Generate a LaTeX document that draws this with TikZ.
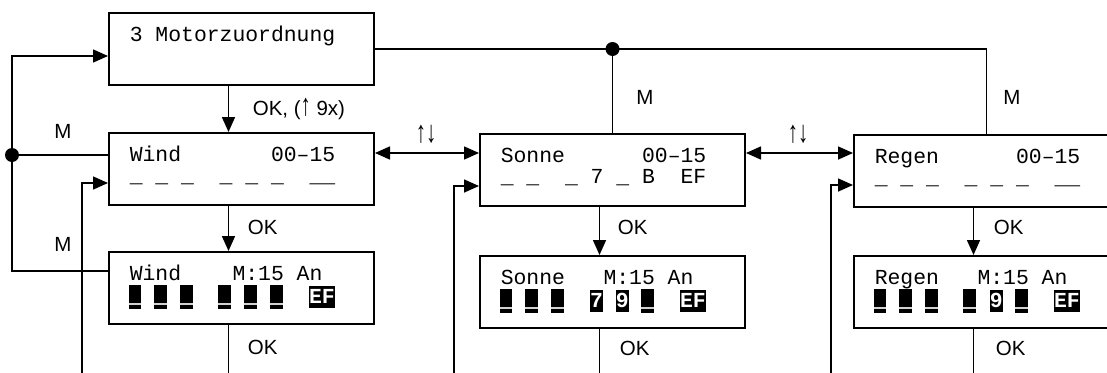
\documentclass[tikz,border=0pt]{standalone}
\usepackage{fontspec}
\usepackage{graphicx}
\setmainfont{Liberation Sans}
\newfontfamily\lcdfont{Liberation Mono}
\newcommand{\pfeilauf}{\scalebox{1}[1.5]{↑}}
\newcommand{\pfeilab}{\scalebox{1}[1.5]{↓}}
\usetikzlibrary{arrows.meta}

\begin{document}
\begin{tikzpicture}[x=1pt, y=-1pt, line width=1.6pt,
		>={Triangle[length=15pt,width=13pt]},
		box/.style={draw, line width=2pt, minimum width=265pt, minimum height=72pt, inner sep=0pt, anchor=north west},
		lcd/.style={anchor=base west, inner sep=0pt, font=\lcdfont\fontsize{21.4}{25}\selectfont},
		hl/.style={fill=black, text=white, inner sep=0pt, anchor=north west, minimum height=22pt, minimum width=12.84pt, font=\lcdfont\bfseries\fontsize{21.4}{25}\selectfont},
		lbl/.style={inner sep=0pt, font=\fontsize{20.5}{24}\selectfont}]
		
		% Rahmen
		\useasboundingbox (0,0) rectangle (1107,372);
		\clip (0,0) rectangle (1107,372);
		
		% Kästen
		\node[box] (menu) at (108,12) {};
		\node[box] (wind) at (108,132) {};
		\node[box] (windM) at (108,251) {};
		\node[box] (sonne) at (479,133) {};
		\node[box] (sonneM) at (479,255) {};
		\node[box] (regen) at (853,134) {};
		\node[box] (regenM) at (853,255) {};
		
		% Anzeigetexte
		\node[lcd] (menuT) at ([xshift=21pt,yshift=-29pt]menu.north west) {3~Motorzuordnung};
		\node[lcd] (windT) at ([xshift=21pt,yshift=-29pt]wind.north west) {Wind~~~~~~~00–15};
		\node[lcd] (windU) at ([xshift=21pt,yshift=-50pt]wind.north west) {\_~\_~\_~~\_~\_~\_~~\_\_};
		\node[lcd] (sonneT) at ([xshift=21pt,yshift=-29pt]sonne.north west) {Sonne~~~~~~00–15};
		\node[lcd] (sonneU) at ([xshift=21pt,yshift=-50pt]sonne.north west) {\_~\_~~\_~7~\_~B~~EF};
		\node[lcd] (regenT) at ([xshift=21pt,yshift=-29pt]regen.north west) {Regen~~~~~~00–15};
		\node[lcd] (regenU) at ([xshift=21pt,yshift=-50pt]regen.north west) {\_~\_~\_~~\_~\_~\_~~\_\_};
		\node[lcd] (windMT) at ([xshift=21pt,yshift=-29pt]windM.north west) {Wind~~~~M:15~An};
		\node[lcd] (sonneMT) at ([xshift=21pt,yshift=-29pt]sonneM.north west) {Sonne~~~M:15~An};
		\node[lcd] (regenMT) at ([xshift=21pt,yshift=-29pt]regenM.north west) {Regen~~~M:15~An};
		
		% Blockzeichen
		\foreach \b/\cols in {windM/{0,2,4,7,9,11}, sonneM/{0,2,4,11}, regenM/{0,2,4,7,11}} {
			\begin{scope}[shift={([xshift=20.5pt,yshift=-34pt]\b.north west)}]
				\foreach \c in \cols {
					\fill ({\c*12.84},0) rectangle ++(12.84,24);
					\draw[gray!35, line width=1.4pt] ({\c*12.84},19) -- ++(12.84,0);
				}
				\node[hl, minimum width=25.68pt] (\b-ef) at ({14*12.84},0) {EF};
			\end{scope}
		}
		\node[hl] (sonneM-7) at ([xshift={20.5pt+7*12.84pt},yshift=-34pt]sonneM.north west) {7};
		\node[hl] (sonneM-9) at ([xshift={20.5pt+9*12.84pt},yshift=-34pt]sonneM.north west) {9};
		\node[hl] (regenM-9) at ([xshift={20.5pt+9*12.84pt},yshift=-34pt]regenM.north west) {9};
		
		% M-Leitungen oben
		\coordinate (dotR) at (sonne.north |- menu.east);
		\draw (menu.east) -| (regen.north);
		\draw (dotR) -- (sonne.north);
		\fill (dotR) circle (7pt);
		
		% M-Leitungen links
		\coordinate (rail) at (12,0);
		\coordinate (mIn) at ([yshift=-44pt]menu.north west);
		\coordinate (wIn) at ([yshift=-23pt]wind.north west);
		\coordinate (wmIn) at ([yshift=-20pt]windM.north west);
		\draw[->] (wmIn) -| (rail |- mIn) -- (mIn);
		\draw (rail |- wIn) -- (wIn);
		\fill (rail |- wIn) circle (7pt);
		
		% OK-Pfeile
		\draw[->] ([xshift=-13pt]menu.south) -- ([xshift=-13pt]wind.north);
		\draw[->] ([xshift=-13pt]wind.south) -- ([xshift=-13pt]windM.north);
		\draw[->] ([xshift=-13pt]sonne.south) -- ([xshift=-13pt]sonneM.north);
		\draw[->] ([xshift=-13pt]regen.south) -- ([xshift=-13pt]regenM.north);
		\coordinate (windEnd) at ([xshift=-13pt]windM.south |- 0,380);
		\coordinate (sonneEnd) at ([xshift=-13pt]sonneM.south |- 0,380);
		\coordinate (regenEnd) at ([xshift=-13pt]regenM.south |- 0,380);
		\draw ([xshift=-13pt]windM.south) -- (windEnd);
		\draw ([xshift=-13pt]sonneM.south) -- (sonneEnd);
		\draw ([xshift=-13pt]regenM.south) -- (regenEnd);
		
		% Rückführungen
		\coordinate (windFb) at (82,380);
		\coordinate (sonneFb) at (454,380);
		\coordinate (regenFb) at (831,380);
		\draw[->] (windFb) |- ([yshift=-51pt]wind.north west);
		\draw[->] (sonneFb) |- ([yshift=-53pt]sonne.north west);
		\draw[->] (regenFb) |- ([yshift=-51pt]regen.north west);
		
		% Auf/Ab zwischen den Kanälen
		\coordinate (wsL) at ([yshift=-21pt]wind.north east);
		\coordinate (srL) at ([yshift=-20pt]sonne.north east);
		\draw[<->] (wsL) -- (sonne.west |- wsL);
		\draw[<->] (srL) -- (regen.west |- srL);
		
		% Beschriftungen
		\node[lbl, anchor=west] (okMenu) at (252,109) {OK, (\pfeilauf{} 9x)};
		\node[lbl, anchor=west] (okWind) at (247,227) {OK};
		\node[lbl, anchor=west] (okWindM) at (247,347) {OK};
		\node[lbl, anchor=west] (okSonne) at (617,227) {OK};
		\node[lbl, anchor=west] (okSonneM) at (619,348) {OK};
		\node[lbl, anchor=west] (okRegen) at (993,227) {OK};
		\node[lbl, anchor=west] (okRegenM) at (995,348) {OK};
		\node[lbl] (mWind) at (63,131) {M};
		\node[lbl] (mWindM) at (63,244) {M};
		\node[lbl] (mSonne) at (645,97) {M};
		\node[lbl] (mRegen) at (1012,97) {M};
		\node[lbl] (udWS) at (426,134) {\pfeilauf\pfeilab};
		\node[lbl] (udSR) at (798,134) {\pfeilauf\pfeilab};
	\end{tikzpicture}
\end{document}
